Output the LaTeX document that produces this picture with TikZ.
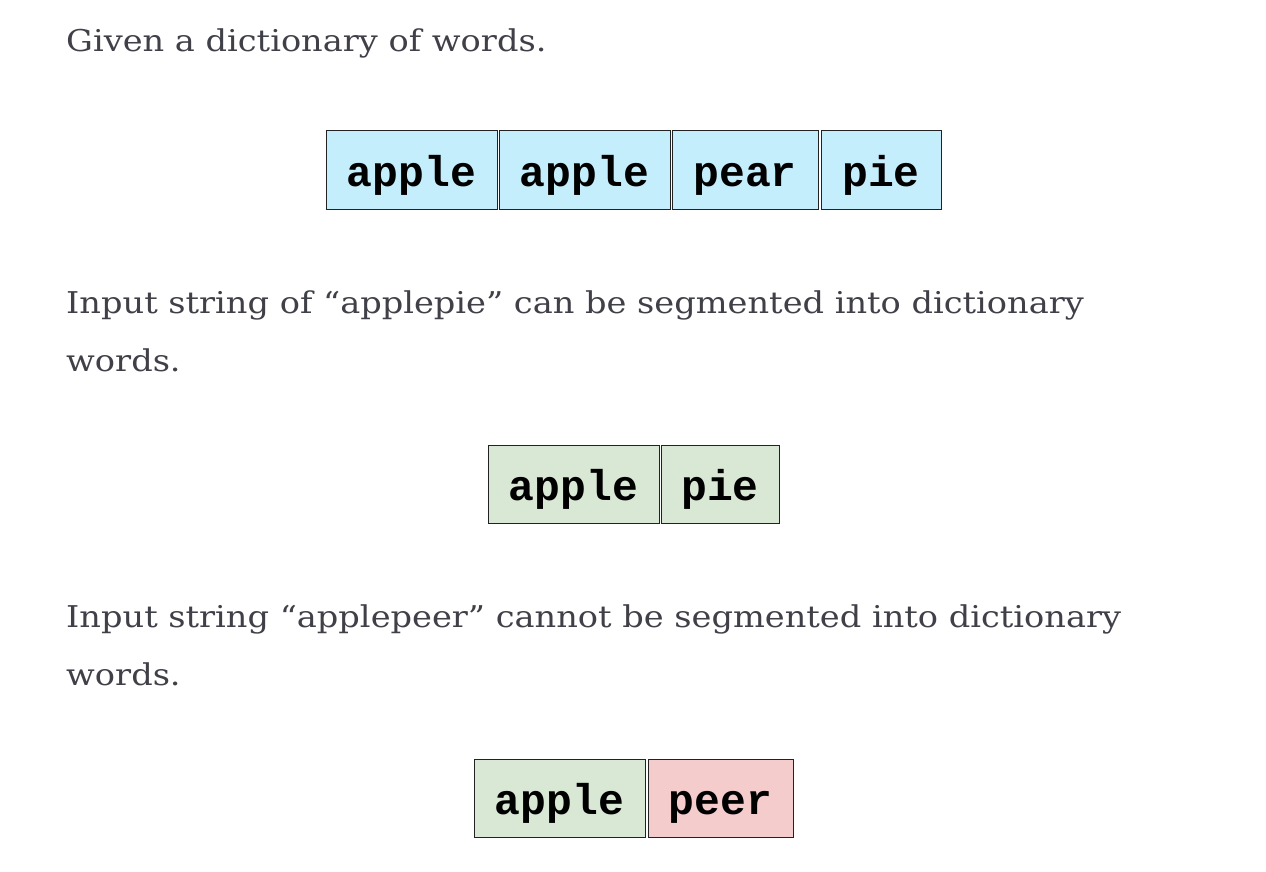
\documentclass[tikz,border=0pt]{standalone}
\usepackage{fontspec}
\setmainfont{DejaVu Serif}[FakeStretch=1.12]
\newfontfamily\boxfont{Liberation Mono}[BoldFont={* Bold}]
\definecolor{txtgray}{RGB}{64,64,72}
\definecolor{dictblue}{RGB}{196,238,252}
\definecolor{okgreen}{RGB}{217,232,213}
\definecolor{badred}{RGB}{244,204,204}
\definecolor{edge}{RGB}{34,34,34}
\tikzset{
  para/.style={anchor=base west, inner sep=0pt, text=txtgray, font=\fontsize{30}{34}\selectfont},
  word/.style={draw=edge, line width=1pt, minimum height=78pt, inner xsep=0pt, inner ysep=0pt,
    text height=32pt, text depth=0pt, font=\boxfont\bfseries\fontsize{43}{43}\selectfont, text=black},
  blue/.style={word, fill=dictblue},
  green/.style={word, fill=okgreen},
  red/.style={word, fill=badred}
}
\begin{document}
\begin{tikzpicture}[x=1pt,y=-1pt]
\useasboundingbox (0,0) rectangle (1266,872);
\fill[white] (0,0) rectangle (1266,872);
\node[para] (t1) at (66,52) {Given a dictionary of words.};
\node[blue, minimum width=171pt] (d1) at (411.5,170) {apple};
\node[blue, minimum width=171pt] (d2) at (584.5,170) {apple};
\node[blue, minimum width=146pt] (d3) at (745,170) {pear};
\node[blue, minimum width=120pt] (d4) at (881,170) {pie};
\node[para] (t2) at (66,313) {Input string of “applepie” can be segmented into dictionary};
\node[para] (t3) at (66,371) {words.};
\node[green, minimum width=171pt] (a1) at (573.5,484.5) {apple};
\node[green, minimum width=118pt] (a2) at (720,484.5) {pie};
\node[para] (t4) at (66,627) {Input string “applepeer” cannot be segmented into dictionary};
\node[para] (t5) at (66,685) {words.};
\node[green, minimum width=171pt] (b1) at (559.5,798.5) {apple};
\node[red, minimum width=145pt] (b2) at (720.5,798.5) {peer};
\end{tikzpicture}
\end{document}
